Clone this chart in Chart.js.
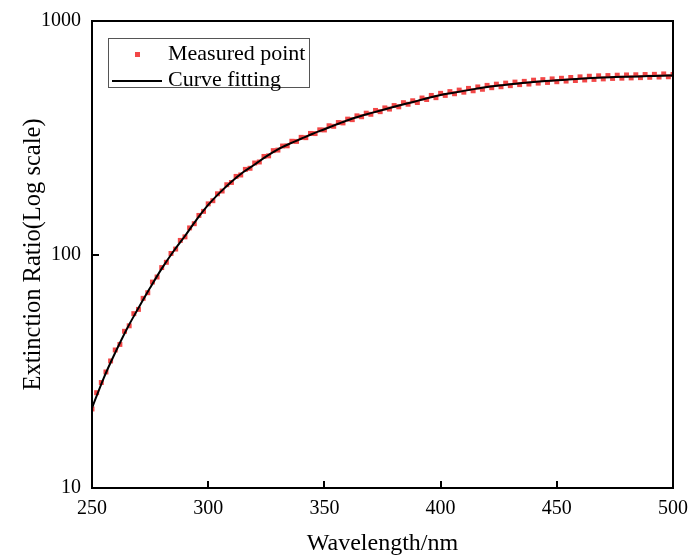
<!DOCTYPE html>
<html>
<head>
<meta charset="utf-8">
<script src="https://cdn.jsdelivr.net/npm/chart.js@4.4.1/dist/chart.umd.min.js"></script>
<style>
html,body{margin:0;padding:0;background:#fff;}
#wrap{width:689px;height:558px;position:relative;}
</style>
</head>
<body>
<div id="wrap"><canvas id="c" width="689" height="558"></canvas></div>
<script>
// ---- data ----
const measuredWavelength = [250,252,254,256,258,260,262,264,266,268,270,272,274,276,278,280,282,284,286,288,290,292,294,296,298,300,302,304,306,308,310,312,314,316,318,320,322,324,326,328,330,332,334,336,338,340,342,344,346,348,350,352,354,356,358,360,362,364,366,368,370,372,374,376,378,380,382,384,386,388,390,392,394,396,398,400,402,404,406,408,410,412,414,416,418,420,422,424,426,428,430,432,434,436,438,440,442,444,446,448,450,452,454,456,458,460,462,464,466,468,470,472,474,476,478,480,482,484,486,488,490,492,494,496,498,500];
const measuredRatio = [21.8,25.6,28.3,31.4,35.0,39.0,41.2,46.9,49.5,55.8,58.2,64.9,68.6,76.2,80.1,87.9,92.6,101.0,105.5,114.9,119.0,130.0,135.5,147.0,153.0,164.8,170.0,182.0,187.0,199.0,203.5,216.0,219.0,231.5,234.0,246.5,249.0,263.0,264.5,278.5,280.0,291.5,292.0,305.5,305.0,317.5,316.5,330.0,329.5,342.0,341.5,356.0,354.0,367.5,366.0,380.0,378.0,392.5,389.0,403.0,398.5,414.0,409.0,424.5,419.5,434.5,429.0,447.0,440.0,455.5,447.5,468.0,461.0,480.0,469.5,490.0,480.0,498.5,488.0,506.0,495.5,514.5,502.5,522.0,510.0,530.0,518.0,536.5,523.0,542.0,528.5,547.5,534.0,551.5,537.0,558.0,542.0,561.0,545.5,565.0,549.5,568.5,553.0,573.0,556.0,576.5,559.0,580.0,562.0,582.5,565.0,584.0,567.5,586.0,569.0,587.5,570.5,588.5,572.0,590.0,574.0,591.0,575.5,593.5,577.0,590.0];
const fitWavelength = [250,255,260,265,270,275,280,285,290,295,300,305,310,315,320,325,330,335,340,345,350,355,360,365,370,375,380,385,390,395,400,405,410,415,420,425,430,435,440,445,450,455,460,465,470,475,480,485,490,495,500];
const fitRatio = [22,29.5,38,48,59,72,87,103,120,141,163,184,205,225,243,263,282,298,313,329,344,360,376,390,403,416,429,442,455,469,482,492,502,512,522,529,536,542,548,553,557,562,566,570,573,575,577,579,581,583,584];
const xTicks = [250,300,350,400,450,500];
const yTicks = [10,100,1000];
const seriesNames = ['Measured point','Curve fitting'];
const xTitle = 'Wavelength/nm';
const yTitle = 'Extinction Ratio(Log scale)';

const FONT = '"Liberation Serif", "Times New Roman", serif';
const RED = 'rgba(240,45,45,0.88)';

const frameAndTicks = {
  id: 'frameAndTicks',
  afterDraw(chart) {
    const {ctx, chartArea: a, scales} = chart;
    ctx.save();
    ctx.strokeStyle = '#000';
    ctx.lineWidth = 2;
    ctx.strokeRect(a.left, a.top, a.right - a.left, a.bottom - a.top);
    ctx.beginPath();
    scales.x.ticks.forEach(t => {
      const px = Math.round(scales.x.getPixelForValue(t.value));
      ctx.moveTo(px, a.bottom); ctx.lineTo(px, a.bottom - 7);
    });
    scales.y.ticks.forEach(t => {
      const py = Math.round(scales.y.getPixelForValue(t.value));
      ctx.moveTo(a.left, py); ctx.lineTo(a.left + 7, py);
    });
    ctx.stroke();
    // legend
    const bx = a.left + 16, by = a.top + 17, bw = 201, bh = 49;
    ctx.lineWidth = 1;
    ctx.strokeStyle = '#555';
    ctx.strokeRect(bx + 0.5, by + 0.5, bw, bh);
    ctx.fillStyle = RED;
    ctx.fillRect(bx + 27, by + 14, 5, 5);
    ctx.strokeStyle = '#000';
    ctx.lineWidth = 2;
    ctx.beginPath();
    ctx.moveTo(bx + 4, by + 43); ctx.lineTo(bx + 54, by + 43);
    ctx.stroke();
    ctx.fillStyle = '#000';
    ctx.font = '22px ' + FONT;
    ctx.textBaseline = 'middle';
    ctx.textAlign = 'left';
    ctx.fillText(chart.data.datasets[0].label, bx + 60, by + 16);
    ctx.fillText(chart.data.datasets[1].label, bx + 60, by + 42);
    ctx.restore();
  }
};

new Chart(document.getElementById('c'), {
  data: {
    datasets: [
      {
        type: 'scatter',
        label: seriesNames[0],
        data: measuredWavelength.map((x, i) => ({x, y: measuredRatio[i]})),
        pointStyle: 'rect',
        pointRadius: 3.5,
        pointBackgroundColor: RED,
        pointBorderWidth: 0,
        order: 2
      },
      {
        type: 'line',
        label: seriesNames[1],
        data: fitWavelength.map((x, i) => ({x, y: fitRatio[i]})),
        borderColor: '#000',
        borderWidth: 2,
        pointRadius: 0,
        cubicInterpolationMode: 'monotone',
        order: 1
      }
    ]
  },
  options: {
    responsive: false,
    animation: false,
    layout: {padding: {top: 21, right: 14, left: 0, bottom: 0}},
    plugins: {legend: {display: false}, tooltip: {enabled: false}},
    scales: {
      x: {
        type: 'linear', min: 250, max: 500,
        afterBuildTicks: s => { s.ticks = xTicks.map(v => ({value: v})); },
        afterFit: s => { s.height = 70; },
        grid: {display: false},
        border: {display: false},
        ticks: {color: '#000', font: {family: FONT, size: 20}, padding: 1, maxRotation: 0},
        title: {display: true, text: xTitle, color: '#000', font: {family: FONT, size: 24}, padding: {top: 0, bottom: 0}}
      },
      y: {
        type: 'logarithmic', min: 10, max: 1000,
        afterBuildTicks: s => { s.ticks = yTicks.map(v => ({value: v})); },
        afterFit: s => { s.width = 92; },
        grid: {display: false},
        border: {display: false},
        ticks: {color: '#000', font: {family: FONT, size: 20}, padding: 3, callback: v => String(v)},
        title: {display: true, text: yTitle, color: '#000', font: {family: FONT, size: 24.5}, padding: {top: 19, bottom: 0}}
      }
    }
  },
  plugins: [frameAndTicks]
});
</script>
</body>
</html>
